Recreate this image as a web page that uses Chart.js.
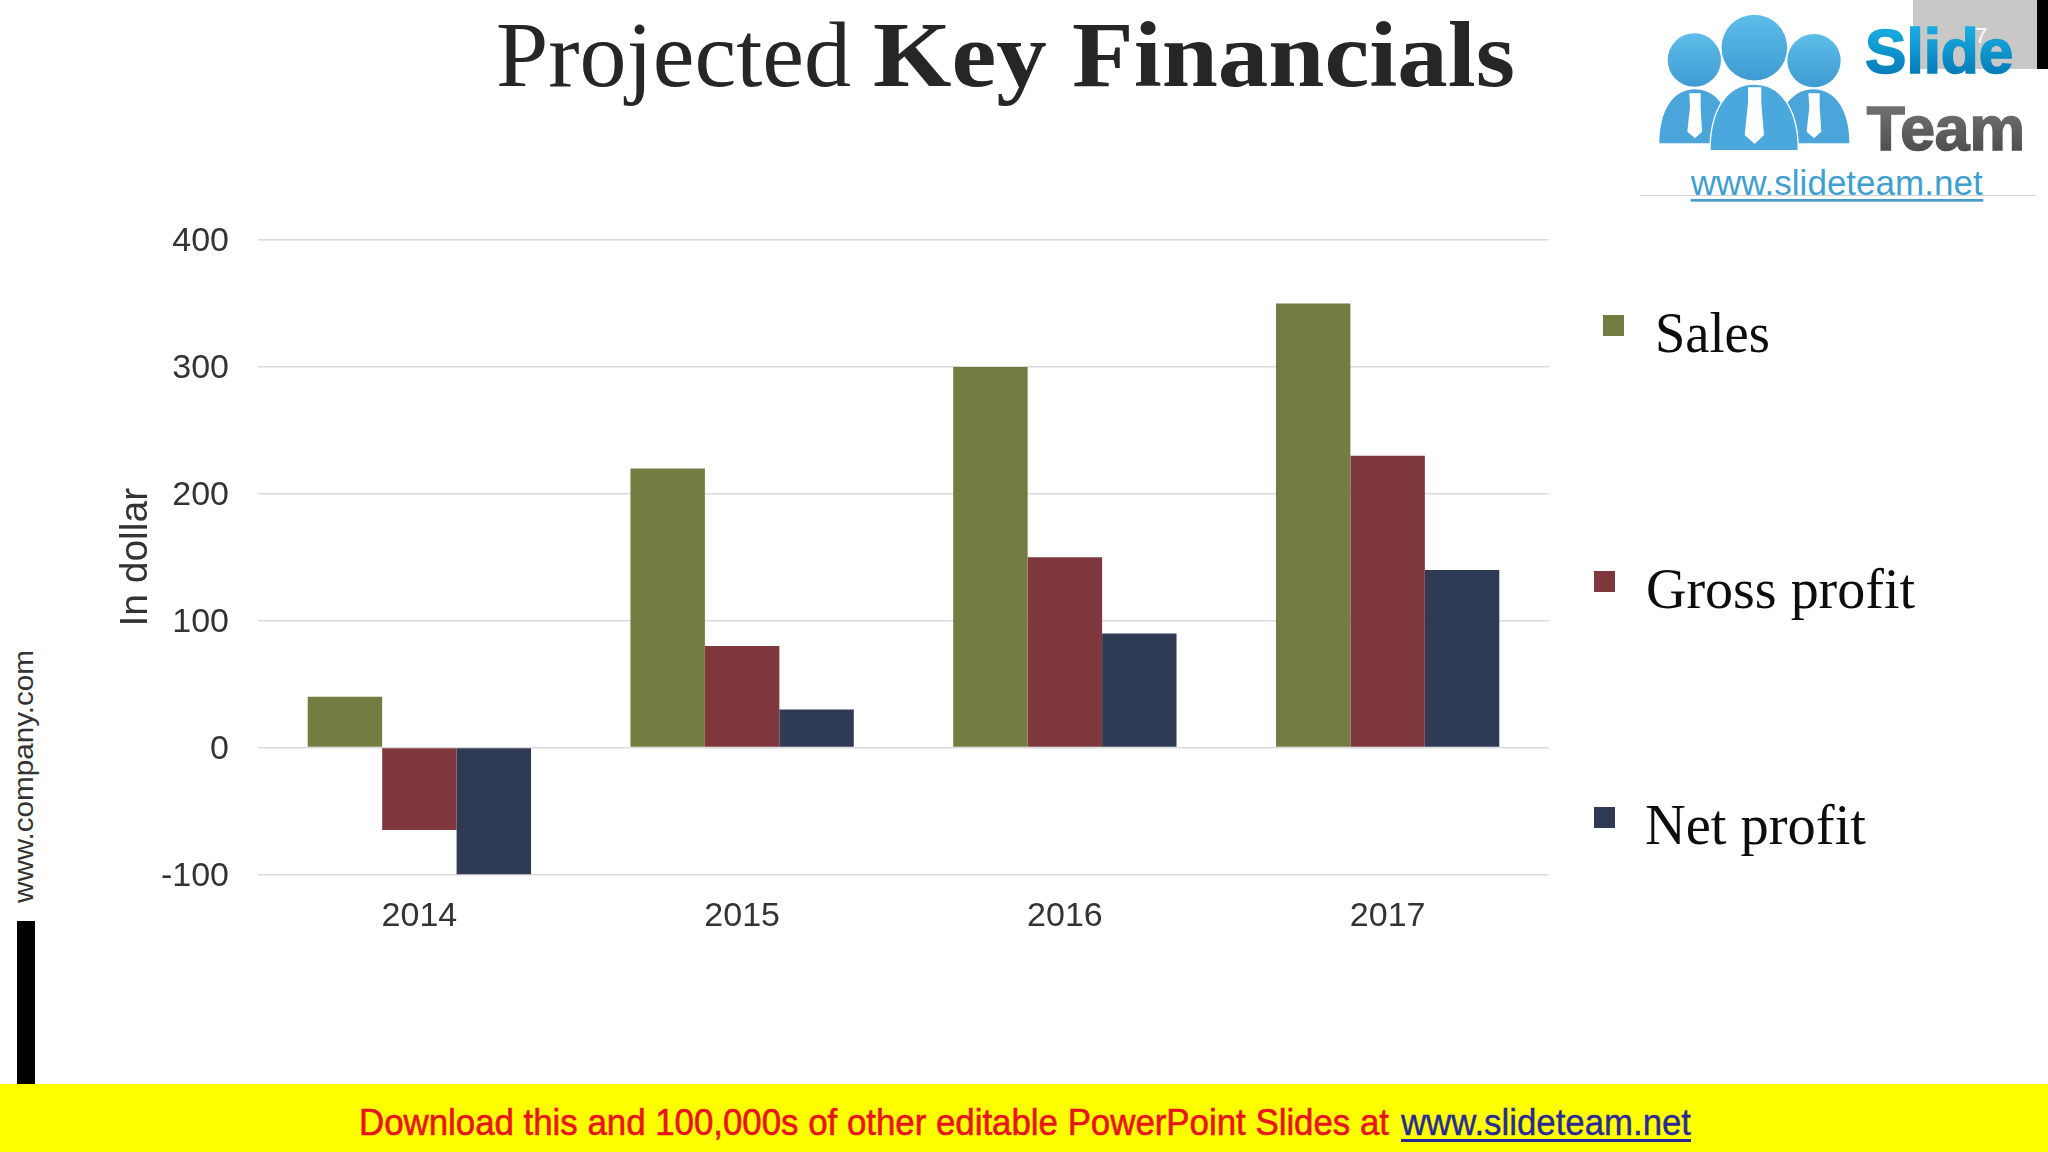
<!DOCTYPE html>
<html>
<head>
<meta charset="utf-8">
<title>Projected Key Financials</title>
<script src="https://cdn.jsdelivr.net/npm/chart.js@4/dist/chart.umd.min.js"></script>
<style>
html, body { margin: 0; padding: 0; background: #fff; }
#page { position: relative; width: 2048px; height: 1152px; overflow: hidden; }
#deco, #financeChart { position: absolute; left: 0; top: 0; }
</style>
</head>
<body>
<div id="page">
<svg id="deco" width="2048" height="1152" viewBox="0 0 2048 1152" xmlns="http://www.w3.org/2000/svg">
  <defs>
    <linearGradient id="slideGrad" x1="0" y1="0" x2="0" y2="1"><stop offset="0" stop-color="#1fb8ec"/><stop offset="1" stop-color="#0070ae"/></linearGradient>
    <linearGradient id="teamGrad" x1="0" y1="0" x2="0" y2="1"><stop offset="0" stop-color="#7c7c7c"/><stop offset="1" stop-color="#454545"/></linearGradient>
    <linearGradient id="headGrad" x1="0" y1="0" x2="0" y2="1"><stop offset="0" stop-color="#5fbdea"/><stop offset="1" stop-color="#3d9bd2"/></linearGradient>
  </defs>

  <!-- title -->
  <text x="496" y="86" textLength="355" lengthAdjust="spacingAndGlyphs" font-family="Liberation Serif" font-size="93" fill="#262626">Projected</text>
  <text x="873" y="86" textLength="642" lengthAdjust="spacingAndGlyphs" font-family="Liberation Serif" font-weight="bold" font-size="93" fill="#262626">Key Financials</text>

  <!-- page number block + logo -->
  <rect x="1913" y="0" width="124" height="69" fill="#c8c9c7"/>
  <rect x="2037" y="0" width="11" height="69" fill="#000"/>
  <g transform="translate(1600,0) scale(0.33333)">
    <circle cx="283" cy="180" r="80" fill="url(#headGrad)"/>
    <circle cx="642" cy="182" r="80" fill="url(#headGrad)"/>
    <path d="M178 430 C178 330 220 268 285 268 C350 268 395 330 395 430 Z" fill="#4aa5da"/>
    <path d="M530 430 C530 330 575 268 640 268 C705 268 748 330 748 430 Z" fill="#4aa5da"/>
    <circle cx="463" cy="143" r="100" fill="url(#headGrad)" stroke="#fff" stroke-width="3"/>
    <path d="M330 452 C330 330 380 252 463 252 C545 252 595 330 595 452 Z" fill="#4aa8dc" stroke="#fff" stroke-width="4"/>
    <path d="M268 280 H302 V320 L306 395 L285 415 L262 395 L270 320 Z" fill="#fff"/>
    <path d="M625 280 H659 V320 L664 395 L642 415 L620 395 L628 320 Z" fill="#fff"/>
    <path d="M444 262 H484 V310 L492 405 L464 432 L434 405 L444 310 Z" fill="#fff"/>
    <text x="795" y="220" textLength="445" lengthAdjust="spacingAndGlyphs" font-family="Liberation Sans" font-weight="bold" font-size="190" fill="url(#slideGrad)" stroke="url(#slideGrad)" stroke-width="5">Slide</text>
    <text x="800" y="450" textLength="475" lengthAdjust="spacingAndGlyphs" font-family="Liberation Sans" font-weight="bold" font-size="190" fill="url(#teamGrad)" stroke="url(#teamGrad)" stroke-width="5">Team</text>
    <text x="272" y="585" textLength="876" lengthAdjust="spacingAndGlyphs" font-family="Liberation Sans" font-size="104" fill="#3f9fd0">www.slideteam.net</text>
    <rect x="120" y="585" width="1190" height="3" fill="#d4d4d4"/>
    <rect x="272" y="597" width="878" height="8" fill="#4a9ad0"/>
  </g>
  <text x="1975" y="43" font-family="Liberation Sans" font-size="22" fill="#fff">7</text>

  <!-- left strip -->
  <text transform="translate(33,903) rotate(-90)" textLength="253" lengthAdjust="spacingAndGlyphs" font-family="Liberation Sans" font-size="28" fill="#333">www.company.com</text>
  <rect x="17" y="921" width="18" height="163" fill="#000"/>

  <!-- bottom banner -->
  <rect x="0" y="1084" width="2048" height="68" fill="#ffff00"/>
  <text x="359" y="1135" textLength="1030" lengthAdjust="spacingAndGlyphs" font-family="Liberation Sans" font-size="36" fill="#e8141c" stroke="#e8141c" stroke-width="0.6">Download this and 100,000s of other editable PowerPoint Slides at</text>
  <text x="1401" y="1135" textLength="290" lengthAdjust="spacingAndGlyphs" font-family="Liberation Sans" font-size="36" fill="#2a2a96" stroke="#2a2a96" stroke-width="0.4">www.slideteam.net</text>
  <rect x="1401" y="1139" width="290" height="3" fill="#2a2a96"/>

  <g id="legend"></g>
</svg>
<canvas id="financeChart" width="2048" height="1152"></canvas>
</div>

<script>
const years = ['2014', '2015', '2016', '2017'];
const salesValues = [40, 220, 300, 350];
const grossProfitValues = [-65, 80, 150, 230];
const netProfitValues = [-100, 30, 90, 140];
const seriesNames = ['Sales', 'Gross profit', 'Net profit'];
const seriesColors = ['#737c41', '#7f383e', '#2f3b55'];
const yTicks = [-100, 0, 100, 200, 300, 400];

// legend spots are uneven in the slide, so it is placed by hand
const legendSpots = [
    { sx: 1603, sy: 315, tx: 1655, ty: 352, tw: 115 },
    { sx: 1594, sy: 571, tx: 1646, ty: 608, tw: 269 },
    { sx: 1594, sy: 807, tx: 1645, ty: 844, tw: 221 }
];

const NS = 'http://www.w3.org/2000/svg';
const legendGroup = document.getElementById('legend');
seriesNames.forEach((name, i) => {
    const spot = legendSpots[i];
    const box = document.createElementNS(NS, 'rect');
    box.setAttribute('x', spot.sx);
    box.setAttribute('y', spot.sy);
    box.setAttribute('width', 21);
    box.setAttribute('height', 21);
    box.setAttribute('fill', seriesColors[i]);
    legendGroup.appendChild(box);

    const label = document.createElementNS(NS, 'text');
    label.setAttribute('x', spot.tx);
    label.setAttribute('y', spot.ty);
    label.setAttribute('textLength', spot.tw);
    label.setAttribute('lengthAdjust', 'spacingAndGlyphs');
    label.setAttribute('font-family', 'Liberation Serif');
    label.setAttribute('font-size', 56);
    label.setAttribute('fill', '#0d0d0d');
    label.textContent = name;
    legendGroup.appendChild(label);
});

const seriesValues = [salesValues, grossProfitValues, netProfitValues];

new Chart(document.getElementById('financeChart').getContext('2d'), {
    type: 'bar',
    data: {
        labels: years,
        datasets: seriesNames.map((name, i) => ({
            label: name,
            data: seriesValues[i],
            backgroundColor: seriesColors[i],
            categoryPercentage: 0.692,
            barPercentage: 1
        }))
    },
    options: {
        responsive: false,
        animation: false,
        layout: { padding: { top: 240, right: 499, bottom: 217.5, left: 0 } },
        plugins: {
            legend: { display: false },
            title: { display: false },
            tooltip: { enabled: false }
        },
        scales: {
            x: {
                grid: { display: false, drawTicks: false },
                border: { display: false },
                ticks: {
                    color: '#333333',
                    font: { family: 'Liberation Sans', size: 34 },
                    padding: 22,
                    maxRotation: 0
                },
                afterFit: (scale) => { scale.height = 60; }
            },
            y: {
                min: yTicks[0],
                max: yTicks[yTicks.length - 1],
                grid: { color: '#dcdcdc', lineWidth: 1.5, drawTicks: false },
                border: { display: false },
                ticks: {
                    color: '#333333',
                    // empty first line + tiny line height nudges the label slightly down
                    font: { family: 'Liberation Sans', size: 34, lineHeight: 0.1 },
                    padding: 29,
                    stepSize: yTicks[1] - yTicks[0],
                    callback: (value) => ['', String(value)]
                },
                title: {
                    display: true,
                    text: 'In dollar',
                    color: '#333333',
                    font: { family: 'Liberation Sans', size: 39 },
                    padding: { top: 113, bottom: 0 }
                },
                afterFit: (scale) => { scale.width = 258; }
            }
        }
    }
});
</script>
</body>
</html>
